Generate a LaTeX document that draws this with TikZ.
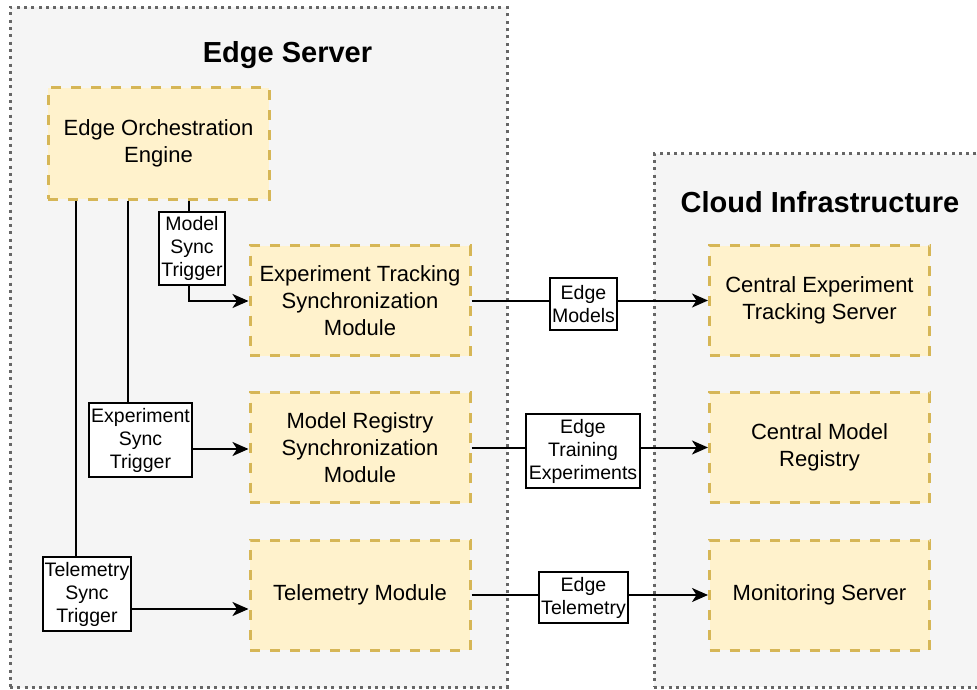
\documentclass[tikz,border=0pt]{standalone}
\usepackage{fontspec}
\setmainfont{Liberation Sans}
\usetikzlibrary{arrows.meta}
\definecolor{panelfill}{HTML}{F5F5F5}
\definecolor{panelline}{HTML}{666666}
\definecolor{modfill}{HTML}{FFF2CC}
\definecolor{modline}{HTML}{D6B656}
\tikzset{
  panel/.style={fill=panelfill, draw=panelline, line width=3pt,
    dash pattern=on 3pt off 4.3pt},
  module/.style={draw=modline, fill=modfill, line width=3pt,
    dash pattern=on 10pt off 10pt, minimum width=220pt, minimum height=110pt,
    align=center, inner sep=0pt, font=\fontsize{22}{27}\selectfont},
  tag/.style={draw=black, fill=white, line width=1.8pt, align=center,
    inner sep=0pt, font=\fontsize{19.5}{23}\selectfont},
  paneltitle/.style={font=\fontsize{29}{34}\selectfont\bfseries},
  flow/.style={draw=black, line width=2pt,
    -{Stealth[length=16pt,width=14pt,inset=4.5pt]}},
}
\begin{document}
\begin{tikzpicture}[x=1pt, y=-1pt]
\clip (0,0) rectangle (977,690);

% containers
\node[panel, minimum width=497pt, minimum height=680pt] (edgepanel) at (258.5,347.5) {};
\node[panel, minimum width=340pt, minimum height=533pt] (cloudpanel) at (824,420.5) {};
\node[paneltitle] (edgetitle) at (287.5,55) {Edge Server};
\node[paneltitle] (cloudtitle) at (820,202) {Cloud Infrastructure};

% edge modules
\node[module, minimum width=221pt, minimum height=111pt] (orch) at (158.5,143.5) {Edge Orchestration\\Engine};
\node[module] (ets) at (360,300.5) {Experiment Tracking\\Synchronization\\Module};
\node[module] (mrs) at (360,447.5) {Model Registry\\Synchronization\\Module};
\node[module] (tel) at (360,595) {Telemetry Module};

% cloud services
\node[module] (cets) at (819.5,300.5) {Central Experiment\\Tracking Server};
\node[module] (cmr) at (819.5,447.5) {Central Model\\Registry};
\node[module] (mon) at (819.5,595) {Monitoring Server};

% trigger connectors from the orchestration engine
\draw[flow] ([xshift=142pt]orch.south west) |- ([yshift=-0.5pt]ets.west);
\draw[flow] ([xshift=81pt]orch.south west) |- ([yshift=-1.5pt]mrs.west);
\draw[flow] ([xshift=29pt]orch.south west) |- ([yshift=-14pt]tel.west);

% edge-to-cloud connectors
\draw[flow] (ets) -- (cets);
\draw[flow] (mrs) -- (cmr);
\draw[flow] (tel) -- (mon);

% connector labels
\node[tag, minimum width=66pt, minimum height=73pt] (mst) at (192,248.5) {Model\\Sync\\Trigger};
\node[tag, minimum width=103pt, minimum height=74pt] (est) at (140.5,440) {Experiment\\Sync\\Trigger};
\node[tag, minimum width=88pt, minimum height=74pt] (tst) at (87,594) {Telemetry\\Sync\\Trigger};
\node[tag, minimum width=67pt, minimum height=52pt] (em) at (583.5,304) {Edge\\Models};
\node[tag, minimum width=114pt, minimum height=74pt] (ete) at (583,451) {Edge\\Training\\Experiments};
\node[tag, minimum width=89pt, minimum height=51pt] (etl) at (583.5,597.5) {Edge\\Telemetry};
\end{tikzpicture}
\end{document}
